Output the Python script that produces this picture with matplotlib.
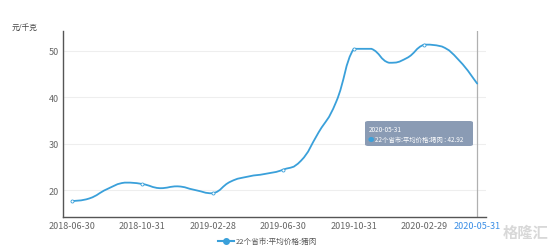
import matplotlib
matplotlib.use("Agg")
import matplotlib.pyplot as plt
from matplotlib.path import Path
from matplotlib.patches import PathPatch, FancyBboxPatch
import numpy as np

plt.rcParams['font.family'] = ['Noto Sans CJK SC', 'DejaVu Sans']

dates = ["2018-06-30", "2018-07-31", "2018-08-31", "2018-09-30", "2018-10-31", "2018-11-30",
         "2018-12-31", "2019-01-31", "2019-02-28", "2019-03-31", "2019-04-30", "2019-05-31",
         "2019-06-30", "2019-07-31", "2019-08-31", "2019-09-30", "2019-10-31", "2019-11-30",
         "2019-12-31", "2020-01-31", "2020-02-29", "2020-03-31", "2020-04-30", "2020-05-31"]
prices = [17.6, 18.2, 20.2, 21.6, 21.3, 20.4, 20.8, 20.0, 19.3, 21.8, 22.9, 23.5,
          24.4, 26.3, 32.4, 39.0, 50.4, 50.4, 47.4, 48.4, 51.3, 50.9, 47.8, 42.92]
series_name = "22个省市:平均价格:猪肉"
unit_label = "元/千克"
yticks = [20, 30, 40, 50]

line_color = "#3AA0DA"
W, H = 554, 251
fig = plt.figure(figsize=(W / 100, H / 100), dpi=100)
ax = fig.add_axes([63 / W, 1 - 218 / H, (486 - 63) / W, (218 - 31.7) / H])

x = np.arange(len(prices), dtype=float)
y = np.array(prices, dtype=float)

# smooth bezier rendering through the data points
verts = [(x[0], y[0])]
codes = [Path.MOVETO]
s = 0.25
n = len(x)
for i in range(n - 1):
    p0 = np.array([x[max(i - 1, 0)], y[max(i - 1, 0)]])
    p1 = np.array([x[i], y[i]])
    p2 = np.array([x[i + 1], y[i + 1]])
    p3 = np.array([x[min(i + 2, n - 1)], y[min(i + 2, n - 1)]])
    c1 = p1 + (p2 - p0) * s
    c2 = p2 - (p3 - p1) * s
    lo, hi = min(p1[1], p2[1]), max(p1[1], p2[1])
    c1[1] = min(max(c1[1], lo), hi)
    c2[1] = min(max(c2[1], lo), hi)
    verts += [tuple(c1), tuple(c2), tuple(p2)]
    codes += [Path.CURVE4, Path.CURVE4, Path.CURVE4]
ax.add_patch(PathPatch(Path(verts, codes), facecolor='none', edgecolor=line_color,
                       lw=1.3, capstyle='round', joinstyle='round', zorder=3))
ax.plot(x[::4], y[::4], linestyle='none', marker='o', ms=2.2, mfc='white',
        mec=line_color, mew=0.6, zorder=4)

ax.set_xlim(-0.5, n - 0.5)
ax.set_ylim(14.2, 54.3)
ax.set_yticks(yticks)
ax.set_yticklabels([str(v) for v in yticks], color='#666666', fontsize=6.5)
for v in yticks:
    ax.axhline(v, color='#EEEEEE', lw=0.8, zorder=1)

tick_idx = [0, 4, 8, 12, 16, 20]
ax.set_xticks(tick_idx + [n - 1])
ax.set_xticklabels([dates[i] for i in tick_idx] + [dates[-1]], fontsize=6.5, color='#666666')
ax.get_xticklabels()[-1].set_color('#3A8EE6')
ax.tick_params(axis='both', length=0, pad=3)

for side in ['top', 'right']:
    ax.spines[side].set_visible(False)
ax.spines['left'].set_color('#555555')
ax.spines['bottom'].set_color('#555555')
ax.spines['left'].set_linewidth(1.0)
ax.spines['bottom'].set_linewidth(1.0)

# axis pointer line
ax.axvline(n - 1, color='#B0B0B0', lw=0.9, zorder=2)

# tooltip
tip = FancyBboxPatch((365 / W, 1 - 147 / H), (473 - 365) / W, 25 / H,
                     boxstyle="round,pad=0,rounding_size=0.006",
                     transform=fig.transFigure, facecolor='#8A9BB4', edgecolor='none',
                     zorder=10)
fig.patches.append(tip)
fig.text(369 / W, 1 - 130 / H, dates[-1], fontsize=4.6, color='white', va='center', zorder=11)
fig.text(368 / W, 1 - 140 / H, "\u25CF", fontsize=4.6, color=line_color, va='center', zorder=11)
fig.text(375 / W, 1 - 140 / H, series_name + " : " + f"{prices[-1]:.2f}", fontsize=4.6,
         color='white', va='center', zorder=11)

# unit label
fig.text(12 / W, 1 - 28 / H, unit_label, fontsize=5.5, color='#444444', va='center')

# legend
lx, ly = 226 / W, 1 - 242 / H
fig.add_artist(plt.Line2D([lx - 8 / W, lx + 8 / W], [ly, ly], color=line_color, lw=1.5,
                          transform=fig.transFigure))
fig.add_artist(plt.Line2D([lx], [ly], marker='o', ms=4, color=line_color,
                          transform=fig.transFigure))
fig.text(236 / W, ly, series_name, fontsize=5.5, color='#555555', va='center')

# watermark
fig.text(526 / W, 1 - 233 / H, "格隆汇", fontsize=11, color='#D8D8D8', va='center', ha='center',
         fontweight='bold')

fig.savefig("out.png", dpi=100)
